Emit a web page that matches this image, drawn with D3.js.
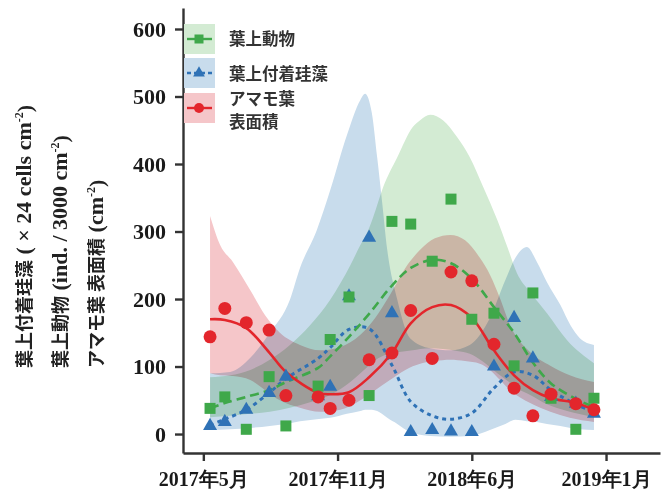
<!DOCTYPE html>
<html>
<head>
<meta charset="utf-8">
<script src="https://cdn.jsdelivr.net/npm/d3@7"></script>
<style>
  body { margin: 0; background: #fff; }
  .band { mix-blend-mode: multiply; }
</style>
</head>
<body>
<svg id="chart" width="666" height="490"></svg>
<script>
// sampling dates, days after the first tick
const sampleDays = [10, 32, 64, 98, 123, 171, 189, 217, 247, 281, 309, 341, 369, 400, 433, 463, 491, 518, 555, 582];

// observed values
const animals  = [38, 55, 7, 85, 12, 71, 140, 203, 57, 315, 311, 256, 348, 170, 179, 101, 209, 53, 7, 53];
const diatoms  = [12, 18, 36, 61, 85, 56, 70, 204, 291, 179, 3, 6, 4, 3, 100, 172, 112, 55, 45, 30];
const leafArea = [144, 186, 165, 154, 57, 55, 38, 50, 110, 120, 183, 112, 240, 227, 133, 68, 27, 59, 45, 36];

// fitted curves at the sampling dates
const animalFit  = [38, 46, 55, 65, 77, 98, 115, 144, 178, 220, 246, 258, 253, 230, 188, 150, 106, 75, 52, 40];
const diatomFit  = [13, 22, 36, 61, 82, 112, 128, 155, 156, 102, 48, 27, 22, 31, 68, 92, 87, 65, 44, 33];
const leafFit    = [170, 169, 157, 121, 92, 61, 59, 62, 84, 120, 164, 188, 191, 172, 124, 87, 65, 53, 46, 36];

// confidence bands
const animalBandDays = [10, 40, 70, 99, 129, 159, 189, 219, 234, 244, 253, 268, 289, 312, 323, 338, 357, 378, 397, 417, 438, 453, 467, 487, 512, 542, 582];
const animalBandHi   = [84, 87, 95, 110, 132, 161, 199, 250, 280, 298, 321, 366, 410, 455, 465, 473, 465, 440, 410, 366, 317, 277, 239, 210, 179, 139, 105];
const animalBandLo   = [25, 27, 30, 33, 39, 47, 58, 77, 90, 99, 107, 116, 121, 124, 126, 127, 126, 123, 119, 107, 90, 79, 68, 58, 44, 34, 25];

const diatomBandDays = [10, 40, 70, 99, 129, 144, 169, 189, 214, 234, 241, 251, 259, 266, 274, 289, 308, 338, 368, 397, 427, 450, 465, 482, 497, 512, 532, 547, 561, 582];
const diatomBandHi   = [90, 92, 113, 150, 199, 246, 302, 361, 443, 495, 504, 476, 410, 347, 273, 199, 142, 127, 124, 132, 172, 228, 261, 277, 255, 225, 191, 161, 142, 132];
const diatomBandLo   = [6, 7, 9, 12, 16, 19, 22, 24, 30, 34, 36, 36, 34, 30, 24, 15, 3, -3, -4, -3, 6, 15, 21, 19, 18, 15, 12, 9, 7, 6];

const leafBandDays = [10, 25, 44, 70, 92, 114, 144, 174, 204, 234, 256, 278, 301, 323, 345, 368, 390, 412, 427, 442, 457, 487, 517, 546, 582];
const leafBandHi   = [323, 280, 255, 213, 176, 150, 132, 124, 129, 147, 172, 206, 246, 273, 290, 295, 287, 261, 236, 201, 161, 121, 101, 87, 77];
const leafBandLo   = [90, 87, 86, 80, 65, 50, 39, 33, 36, 50, 65, 80, 95, 104, 108, 110, 108, 104, 95, 80, 65, 46, 33, 24, 18];

const xTicks = [0, 200, 400, 600];
const xTickLabels = ["2017年5月", "2017年11月", "2018年6月", "2019年1月"];
const yTicks = [0, 100, 200, 300, 400, 500, 600];

const green = "#3fa84a", blue = "#2f72b6", red = "#e3262c";
const greenBand = "#d3ebd3", blueBand = "#c8dcec", redBand = "#f5c6c9";
const serif = "'Liberation Serif', 'Times New Roman', serif";
const gothic = "'Noto Sans CJK JP', 'Noto Sans', sans-serif";

const svg = d3.select("#chart");

const x = d3.scaleLinear().domain([-30.3, 680.4]).range([183, 660]);
const y = d3.scaleLinear().domain([-28.1, 631.1]).range([453, 8]);

// bands
function band(days, hi, lo) {
    return days.map((d, i) => ({ day: d, hi: hi[i], lo: lo[i] }));
}
const area = d3.area()
    .x(d => x(d.day))
    .y0(d => y(d.lo))
    .y1(d => y(d.hi))
    .curve(d3.curveMonotoneX);

const bands = [
    { data: band(animalBandDays, animalBandHi, animalBandLo), fill: greenBand },
    { data: band(diatomBandDays, diatomBandHi, diatomBandLo), fill: blueBand },
    { data: band(leafBandDays, leafBandHi, leafBandLo), fill: redBand }
];
svg.append("g").selectAll("path")
    .data(bands)
    .enter()
    .append("path")
    .attr("class", "band")
    .attr("d", d => area(d.data))
    .attr("fill", d => d.fill);

// fitted lines
const line = d3.line()
    .x((d, i) => x(sampleDays[i]))
    .y(d => y(d))
    .curve(d3.curveCatmullRom.alpha(0.5));

svg.append("path").attr("d", line(diatomFit))
    .attr("fill", "none").attr("stroke", blue).attr("stroke-width", 3)
    .attr("stroke-dasharray", "4,4");
svg.append("path").attr("d", line(animalFit))
    .attr("fill", "none").attr("stroke", green).attr("stroke-width", 2.6)
    .attr("stroke-dasharray", "9,5");
svg.append("path").attr("d", line(leafFit))
    .attr("fill", "none").attr("stroke", red).attr("stroke-width", 2.6);

// points
const tri = d3.symbol(d3.symbolTriangle, 85);
svg.append("g").selectAll("path")
    .data(diatoms)
    .enter()
    .append("path")
    .attr("d", tri)
    .attr("transform", (d, i) => `translate(${x(sampleDays[i])},${y(d)})`)
    .attr("fill", blue);

svg.append("g").selectAll("rect")
    .data(animals)
    .enter()
    .append("rect")
    .attr("x", (d, i) => x(sampleDays[i]) - 5.5)
    .attr("y", d => y(d) - 5.5)
    .attr("width", 11)
    .attr("height", 11)
    .attr("fill", green);

svg.append("g").selectAll("circle")
    .data(leafArea)
    .enter()
    .append("circle")
    .attr("cx", (d, i) => x(sampleDays[i]))
    .attr("cy", d => y(d))
    .attr("r", 6.5)
    .attr("fill", red);

// axes
const xAxis = svg.append("g")
    .attr("transform", "translate(0,453)")
    .call(d3.axisBottom(x).tickValues(xTicks).tickFormat((d, i) => xTickLabels[i])
        .tickSize(8).tickSizeOuter(0).tickPadding(11));
const yAxis = svg.append("g")
    .attr("transform", "translate(183,0)")
    .call(d3.axisLeft(y).tickValues(yTicks).tickSize(8).tickSizeOuter(0).tickPadding(9));

[xAxis, yAxis].forEach(a => {
    a.selectAll("path, line").attr("stroke", "#333").attr("stroke-width", 2.4);
    a.selectAll("text").attr("fill", "#1a1a1a")
        .style("font-family", serif).style("font-weight", "bold");
});
xAxis.selectAll("text").style("font-size", "20px");
yAxis.selectAll("text").style("font-size", "22px");

// legend
const legendItems = [
    { y: 24, fill: greenBand, color: green, dash: null, shape: "square" },
    { y: 58, fill: blueBand, color: blue, dash: "4,3", shape: "triangle" },
    { y: 93, fill: redBand, color: red, dash: null, shape: "circle" }
];
const lg = svg.append("g");
legendItems.forEach(it => {
    const cy = it.y + 15;
    lg.append("rect").attr("x", 184).attr("y", it.y).attr("width", 31).attr("height", 30).attr("fill", it.fill);
    lg.append("line").attr("x1", 187).attr("x2", 212).attr("y1", cy).attr("y2", cy)
        .attr("stroke", it.color).attr("stroke-width", 2.4)
        .attr("stroke-dasharray", it.dash);
    if (it.shape === "square") {
        lg.append("rect").attr("x", 194.5).attr("y", cy - 4.5).attr("width", 9).attr("height", 9).attr("fill", it.color);
    } else if (it.shape === "triangle") {
        lg.append("path").attr("d", d3.symbol(d3.symbolTriangle, 60)())
            .attr("transform", `translate(199,${cy})`).attr("fill", it.color);
    } else {
        lg.append("circle").attr("cx", 199).attr("cy", cy).attr("r", 5).attr("fill", it.color);
    }
});
const legendText = [
    { t: "葉上動物", y: 39 },
    { t: "葉上付着珪藻", y: 74 },
    { t: "アマモ葉", y: 99 },
    { t: "表面積", y: 122 }
];
lg.selectAll("text.leg")
    .data(legendText)
    .enter()
    .append("text")
    .attr("class", "leg")
    .attr("x", 229)
    .attr("y", d => d.y)
    .attr("dy", "0.35em")
    .attr("fill", "#333")
    .style("font-family", gothic)
    .style("font-weight", "bold")
    .style("font-size", "16.5px")
    .text(d => d.t);

// y-axis titles
const titles = [
    { x: 25, jp: "葉上付着珪藻", en: " ( × 24 cells cm" },
    { x: 61, jp: "葉上動物", en: " (ind. / 3000 cm" },
    { x: 97, jp: "アマモ葉 表面積", en: " (cm" }
];
titles.forEach(t => {
    const txt = svg.append("text")
        .attr("transform", `translate(${t.x},368) rotate(-90)`)
        .attr("dy", "0.35em")
        .attr("fill", "#222")
        .style("font-weight", "bold");
    txt.append("tspan").style("font-family", gothic).style("font-size", "18px").text(t.jp);
    txt.append("tspan").style("font-family", serif).style("font-size", "22px").text(t.en);
    txt.append("tspan").style("font-family", serif).style("font-size", "12px").attr("dy", "-0.6em").text("-2");
    txt.append("tspan").style("font-family", serif).style("font-size", "22px").attr("dy", "0.4em").text(")");
});
</script>
</body>
</html>
